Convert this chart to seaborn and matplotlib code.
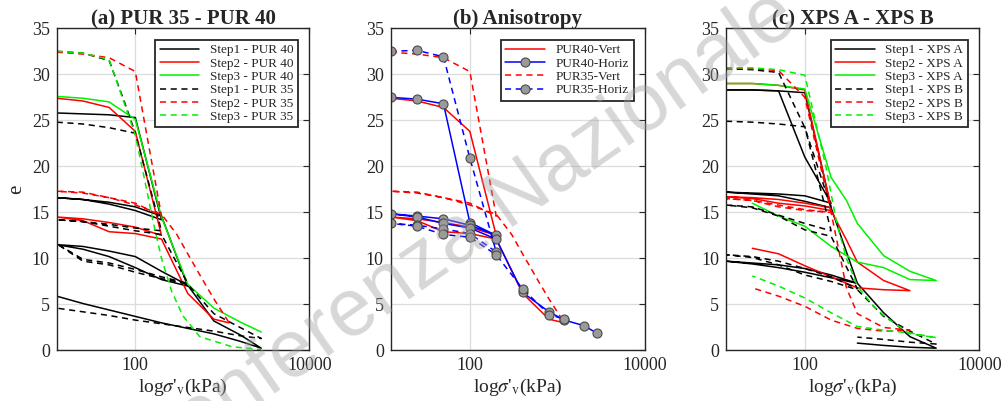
import numpy as np
import pandas as pd
import matplotlib
matplotlib.use('Agg')
import matplotlib.pyplot as plt
import seaborn as sns
from matplotlib.ticker import NullLocator, FixedLocator, FixedFormatter

# ---------------- data ----------------
# load steps in kPa, e = void ratio; loops = unload / reload cycles
# (a) PUR 35 - PUR 40
a_s1_p40_x = [12.5, 25, 50, 100, 200, 100, 50, 25, 12.5, 25, 50, 100, 200, 400, 200, 100, 50, 25, 12.5,
              25, 50, 100, 200, 400, 800, 1600, 2800, 1600, 800, 400, 200, 100, 50, 25, 12.5]
a_s1_p40_e = [25.8, 25.7, 25.6, 25.3, 14.2, 15.2, 15.9, 16.4, 16.6, 16.4, 16.1, 15.6, 14.6, 7.0, 7.7, 9.0, 10.2, 11.0, 11.5,
              11.3, 10.8, 10.2, 8.6, 7.1, 3.2, 1.7, 0.25, 1.0, 1.8, 2.4, 3.0, 3.7, 4.4, 5.1, 5.9]

a_s2_p40_x = [12.5, 25, 50, 100, 200, 100, 50, 25, 12.5, 25, 50, 100, 200, 400, 800, 1200]
a_s2_p40_e = [27.4, 27.1, 26.4, 23.8, 12.5, 13.4, 13.9, 14.3, 14.5, 14.1, 12.9, 12.7, 12.1, 6.2, 3.4, 3.0]

a_s3_p40_x = [12.5, 25, 50, 100, 200, 400, 800, 1600, 2800]
a_s3_p40_e = [27.6, 27.4, 27.0, 25.1, 14.5, 7.2, 4.6, 3.1, 2.0]

a_s1_p35_x = [12.5, 25, 50, 100, 200, 100, 50, 25, 12.5, 25, 50, 100, 200, 400, 200, 100, 50, 25, 12.5,
              25, 50, 100, 200, 400, 800, 1600, 2800, 1600, 800, 400, 200, 100, 50, 25, 12.5]
a_s1_p35_e = [24.8, 24.6, 24.2, 23.6, 13.0, 13.3, 13.7, 14.0, 14.2, 14.0, 13.5, 13.0, 12.6, 7.3, 8.0, 8.8, 9.5, 9.9, 11.6,
              9.7, 9.3, 8.5, 7.8, 7.2, 4.0, 2.5, 1.3, 1.6, 2.1, 2.5, 2.9, 3.3, 3.8, 4.2, 4.6]
a_s1_p35b_x = [12.5, 25, 50, 75, 100]
a_s1_p35b_e = [32.5, 32.3, 31.5, 27.0, 23.6]

a_s2_p35_x = [12.5, 25, 50, 100, 200, 100, 50, 25, 12.5, 25, 50, 100, 200, 300, 400, 600, 800, 1200]
a_s2_p35_e = [32.4, 32.2, 31.8, 30.3, 14.6, 16.0, 16.6, 17.2, 17.3, 17.1, 16.6, 15.8, 14.8, 12.6, 10.5, 7.6, 5.6, 3.0]

a_s3_p35_x = [12.5, 25, 50, 100, 125, 160, 200, 260, 350, 550, 1300, 2800]
a_s3_p35_e = [32.5, 32.3, 31.6, 23.4, 19.0, 14.0, 10.0, 6.5, 3.8, 1.5, 0.4, 0.1]

# (b) Anisotropy -- vertical curves are the Step2 curves of panel (a)
b_p40_h_x = [12.5, 25, 50, 100, 200, 100, 50, 25, 12.5, 25, 50, 100, 200, 400, 800, 1200, 2000, 2800]
b_p40_h_e = [27.5, 27.3, 26.8, 13.9, 12.5, 13.6, 14.3, 14.6, 14.85, 14.5, 13.8, 13.3, 12.1, 6.3, 4.2, 3.3, 2.7, 1.9]

b_p35_h_x = [12.5, 25, 50, 100, 200, 100, 50, 25, 12.5, 25, 50, 100, 200, 400, 800, 1200]
b_p35_h_e = [32.5, 32.6, 31.9, 20.9, 10.7, 12.7, 13.2, 13.6, 13.8, 13.5, 12.6, 12.3, 10.4, 6.7, 3.9, 3.4]

# (c) XPS A - XPS B
c_s1_a_x = [12.5, 25, 50, 100, 200, 100, 50, 25, 12.5, 25, 50, 100, 200, 400, 200, 100, 50, 25, 12.5,
            25, 50, 100, 200, 400, 800, 1600, 3200, 1600, 800, 400]
c_s1_a_e = [28.3, 28.3, 28.2, 21.0, 16.0, 16.8, 17.0, 17.1, 17.2, 17.0, 16.8, 16.2, 15.5, 7.3, 8.2, 8.9, 9.3, 9.5, 9.7,
            9.4, 9.0, 8.5, 7.9, 7.3, 4.1, 1.5, 0.25, 0.35, 0.55, 0.8]
c_s1_a2_x = [12.5, 25, 50, 100, 200]
c_s1_a2_e = [28.3, 28.3, 28.2, 28.0, 15.5]

c_s2_a_x = [12.5, 25, 50, 100, 200, 100, 50, 25, 12.5, 25, 50, 100, 200, 300, 400, 800, 1600,
            800, 400, 200, 100, 50, 25]
c_s2_a_e = [29.0, 29.0, 28.8, 28.3, 15.5, 16.0, 16.4, 16.6, 16.7, 16.5, 16.0, 15.7, 15.2, 12.0, 9.6, 7.6, 6.5,
            6.6, 6.8, 8.0, 9.2, 10.5, 11.1]

c_s3_a_x = [12.5, 25, 50, 100, 200, 300, 400, 800, 1600, 3200, 1600, 800, 400, 200, 100, 50, 25]
c_s3_a_e = [29.0, 29.0, 28.8, 28.4, 18.8, 16.3, 13.8, 10.3, 8.6, 7.6, 7.7, 9.0, 9.6, 11.3, 13.5, 14.6, 16.0]

c_s1_b_x = [12.5, 25, 50, 100, 200, 100, 50, 25, 12.5, 25, 50, 100, 200, 400, 200, 100, 50, 25, 12.5,
            25, 50, 100, 200, 400, 800, 1600, 3200, 1600, 800, 400]
c_s1_b_e = [24.9, 24.8, 24.6, 24.3, 13.0, 13.8, 14.7, 15.6, 15.8, 15.5, 14.6, 13.1, 12.4, 6.7, 8.0, 8.9, 9.7, 10.2, 10.4,
            10.1, 9.3, 8.2, 7.5, 6.6, 3.7, 2.1, 0.7, 0.9, 1.2, 1.45]
c_s1_b2_x = [12.5, 25, 50, 100, 200]
c_s1_b2_e = [30.6, 30.5, 30.2, 24.2, 15.5]

c_s2_b_x = [12.5, 25, 50, 100, 175, 200, 100, 50, 25, 12.5, 25, 50, 100, 200, 250, 300, 400, 800, 1600,
            800, 400, 200, 100, 50, 25]
c_s2_b_e = [30.7, 30.6, 30.4, 27.5, 17.4, 15.0, 15.3, 15.8, 16.3, 16.5, 16.3, 15.6, 15.2, 15.0, 10.5, 6.8, 4.0, 2.5, 2.2,
            2.1, 2.4, 3.3, 4.8, 5.9, 6.8]

c_s3_b_x = [12.5, 25, 50, 100, 175, 230, 300, 400, 600, 800, 1600, 3200, 1600, 800, 400, 200, 100, 50, 25]
c_s3_b_e = [30.7, 30.7, 30.5, 29.9, 19.9, 14.0, 10.0, 7.0, 4.9, 3.8, 1.8, 1.4, 1.9, 2.2, 2.6, 4.1, 5.7, 7.0, 8.1]

titles = ['(a) PUR 35 - PUR 40', '(b) Anisotropy', '(c) XPS A - XPS B']

# ---------------- styling ----------------
sns.set_theme(style='white')
plt.rcParams['font.family'] = ['Liberation Serif', 'DejaVu Serif']
plt.rcParams['mathtext.fontset'] = 'stix'

RED = '#ff0000'
GREEN = '#00f000'
BLUE = '#0000ff'
BLACK = '#000000'
LW = 1.1
DASH = (4, 3)


def draw(ax, x, e, color, dashed=False, label=None, marker=False):
    d = pd.DataFrame({'x': x, 'e': e})
    kw = dict(color=color, lw=LW)
    if dashed:
        kw['dashes'] = DASH
    if marker:
        kw.update(marker='o', markersize=6.5, markerfacecolor='#9a9a9a',
                  markeredgecolor='#4a4a4a', markeredgewidth=0.8)
    sns.lineplot(data=d, x='x', y='e', sort=False, estimator=None, ax=ax, legend=False, **kw)
    ln = ax.get_lines()[-1]
    ln.set_label(label if label else '_nolegend_')
    return ln


fig = plt.figure(figsize=(10.06, 4.01), dpi=100)
axes = [fig.add_axes([0.0564, 0.126, 0.2511, 0.8035]),
        fig.add_axes([0.3884, 0.126, 0.2528, 0.8035]),
        fig.add_axes([0.7217, 0.126, 0.2518, 0.8035])]

ax = axes[0]
h = []
h.append(draw(ax, a_s1_p40_x, a_s1_p40_e, BLACK, label='Step1 - PUR 40'))
h.append(draw(ax, a_s2_p40_x, a_s2_p40_e, RED, label='Step2 - PUR 40'))
h.append(draw(ax, a_s3_p40_x, a_s3_p40_e, GREEN, label='Step3 - PUR 40'))
h.append(draw(ax, a_s1_p35_x, a_s1_p35_e, BLACK, dashed=True, label='Step1 - PUR 35'))
draw(ax, a_s1_p35b_x, a_s1_p35b_e, BLACK, dashed=True)
h.append(draw(ax, a_s2_p35_x, a_s2_p35_e, RED, dashed=True, label='Step2 - PUR 35'))
h.append(draw(ax, a_s3_p35_x, a_s3_p35_e, GREEN, dashed=True, label='Step3 - PUR 35'))
legs = [h]

ax = axes[1]
h = []
h.append(draw(ax, a_s2_p40_x, a_s2_p40_e, RED, label='PUR40-Vert'))
h.append(draw(ax, b_p40_h_x, b_p40_h_e, BLUE, marker=True, label='PUR40-Horiz'))
h.append(draw(ax, a_s2_p35_x, a_s2_p35_e, RED, dashed=True, label='PUR35-Vert'))
h.append(draw(ax, b_p35_h_x, b_p35_h_e, BLUE, dashed=True, marker=True, label='PUR35-Horiz'))
legs.append(h)

ax = axes[2]
h = []
h.append(draw(ax, c_s1_a_x, c_s1_a_e, BLACK, label='Step1 - XPS A'))
draw(ax, c_s1_a2_x, c_s1_a2_e, BLACK)
h.append(draw(ax, c_s2_a_x, c_s2_a_e, RED, label='Step2 - XPS A'))
h.append(draw(ax, c_s3_a_x, c_s3_a_e, GREEN, label='Step3 - XPS A'))
h.append(draw(ax, c_s1_b_x, c_s1_b_e, BLACK, dashed=True, label='Step1 - XPS B'))
draw(ax, c_s1_b2_x, c_s1_b2_e, BLACK, dashed=True)
h.append(draw(ax, c_s2_b_x, c_s2_b_e, RED, dashed=True, label='Step2 - XPS B'))
h.append(draw(ax, c_s3_b_x, c_s3_b_e, GREEN, dashed=True, label='Step3 - XPS B'))
legs.append(h)

for i, ax in enumerate(axes):
    ax.set_xscale('log')
    ax.set_xlim(12.5, 10000)
    ax.set_ylim(0, 35)
    ax.xaxis.set_major_locator(FixedLocator([100, 10000]))
    ax.xaxis.set_major_formatter(FixedFormatter(['100', '10000']))
    ax.xaxis.set_minor_locator(NullLocator())
    ax.set_yticks(range(0, 36, 5))
    ax.grid(True, color='#dcdcdc', lw=0.9)
    ax.set_axisbelow(True)
    ax.tick_params(direction='in', which='both', top=True, right=True, length=4,
                   width=0.8, color='#262626', labelsize=13, pad=5)
    for s in ax.spines.values():
        s.set_color('#262626')
        s.set_linewidth(1.0)
    ax.set_title(titles[i], fontsize=15, fontweight='bold', pad=3)
    ax.set_xlabel(r"log$\sigma$'$_{\rm v}$(kPa)", fontsize=14, labelpad=2)
    ax.set_ylabel('e' if i == 0 else '', fontsize=15)
    lg = ax.legend(handles=legs[i], loc='upper right', bbox_to_anchor=(0.955, 0.965),
                   fontsize=9.5, frameon=True, fancybox=False, framealpha=1,
                   edgecolor='#262626', handlelength=3.0, labelspacing=0.08,
                   borderpad=0.35, handletextpad=0.8, borderaxespad=0)
    lg.get_frame().set_linewidth(1.3)

# watermark of the source
fig.text(0.46, 0.41, 'Conferenza Nazionale', rotation=35, rotation_mode='anchor',
         ha='center', va='center', fontsize=58, color='#a0a0a0', alpha=0.42,
         family='Liberation Sans', zorder=10)

fig.savefig('out.png', dpi=100)
